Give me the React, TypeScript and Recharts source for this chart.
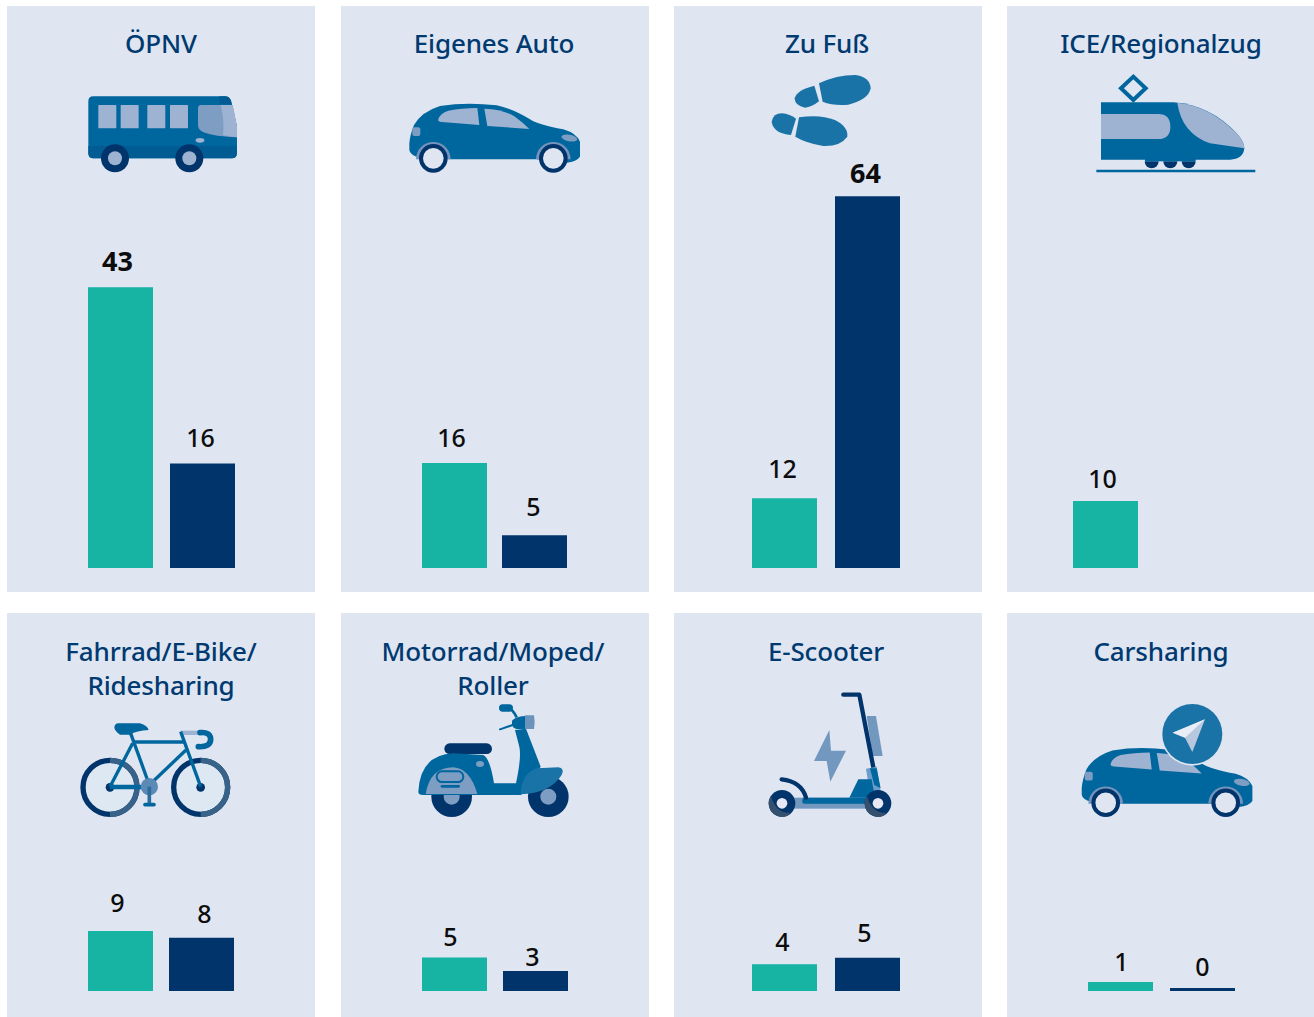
import React from "react";
import { BarChart, Bar, Cell, XAxis, YAxis, LabelList } from "recharts";

const categories = [
  ["ÖPNV"],
  ["Eigenes Auto"],
  ["Zu Fuß"],
  ["ICE/Regionalzug"],
  ["Fahrrad/E-Bike/", "Ridesharing"],
  ["Motorrad/Moped/", "Roller"],
  ["E-Scooter"],
  ["Carsharing"],
];
const greenValues = [43, 16, 12, 10, 9, 5, 4, 1];
const navyValues = [16, 5, 64, null, 8, 3, 5, 0];
const boldValues = [43, 64];
const panelMax = [64.3, 64, 72.3, 62.7, 21, 20.9, 21, 15.55];

// layout only, page pixels
const BLUE = "#00669e";
const NAVY = "#00346b";
const GREEN = "#17b3a3";
const TEAL = "#1a73a7";
const PALE = "#9db3d1";
const MID = "#7d9dc2";
const PANEL = "#dfe5f1";
const panelX = [7, 341, 674, 1007];
const titleNudge = [0, -1, -1, 0, 0, -2, -2, 0];
const barCentres = [
  [120, 202],
  [454, 534],
  [784.5, 867.5],
  [1105, 1187],
  [120.5, 201.5],
  [454.5, 535.5],
  [784.5, 867.5],
  [1120, 1202],
];
const labelNudge = [
  [[-3, -16], [-2, -16]],
  [[-3, -16], [-1, -19]],
  [[-2, -20], [-2, -13]],
  [[-3, -13], [0, 0]],
  [[-3, -19], [3, -15]],
  [[-4, -12], [-3, -5]],
  [[-2, -13], [-3, -16]],
  [[1, -11], [0, -12]],
];

function BarPanel({ index }: { index: number }) {
  const row = index < 4 ? 0 : 1;
  const plotH = row === 0 ? 420 : 140;
  const base = row === 0 ? 568 : 991;
  const [c1, c2] = barCentres[index];
  const gap = c2 - c1;
  const data = [
    { name: "a", value: greenValues[index] },
    { name: "b", value: navyValues[index] },
  ];
  const renderLabel = (p: any) => {
    if (p.value === null || p.value === undefined) return null;
    const [dx, dy] = labelNudge[index][p.index];
    const bold = boldValues.includes(p.value);
    return (
      <text
        x={p.x + p.width / 2 + dx}
        y={p.y + dy}
        textAnchor="middle"
        fontFamily="'Noto Sans'"
        fontSize={bold ? 27 : 25}
        fontWeight={bold ? 700 : 500}
        fill="#0c0c0c"
      >
        {p.value}
      </text>
    );
  };
  return (
    <div style={{ position: "absolute", left: c1 - gap / 2, top: base - plotH }}>
      <BarChart width={gap * 2} height={plotH} data={data} margin={{ top: 0, right: 0, bottom: 0, left: 0 }}>
        <XAxis dataKey="name" hide />
        <YAxis hide domain={[0, panelMax[index]]} />
        <Bar dataKey="value" barSize={65} minPointSize={3} isAnimationActive={false}>
          {data.map((d, i) => (
            <Cell key={d.name} fill={i === 0 ? GREEN : NAVY} />
          ))}
          <LabelList dataKey="value" content={renderLabel} />
        </Bar>
      </BarChart>
    </div>
  );
}

function Title({ index }: { index: number }) {
  const col = index % 4;
  const top = index < 4 ? 26 : 634;
  return (
    <div
      style={{
        position: "absolute",
        left: panelX[col] + titleNudge[index],
        top,
        width: 308,
        textAlign: "center",
        fontFamily: "'Noto Sans'",
        fontSize: 26,
        fontWeight: 500,
        letterSpacing: "-0.15px",
        lineHeight: "34px",
        color: "#003a70",
      }}
    >
      {categories[index].map((line) => (
        <div key={line}>{line}</div>
      ))}
    </div>
  );
}

function Car() {
  return (
    <g>
      <path
        d="M58 370 Q60 345 72 315 Q95 275 150 258 Q230 245 320 256 Q365 265 420 298 Q445 315 520 328 Q560 340 570 365 V410 Q560 425 530 428 L440 418 H180 L85 412 Q60 405 58 390 Z"
        fill={BLUE}
      />
      <path d="M78 418 A52 52 0 0 1 182 418 Z" fill="#7394bc" />
      <path d="M438 418 A52 52 0 0 1 542 418 Z" fill="#7394bc" />
      <circle cx={130} cy={415} r={37} fill={PANEL} stroke={NAVY} strokeWidth={12} />
      <circle cx={490} cy={415} r={37} fill={PANEL} stroke={NAVY} strokeWidth={12} />
      <path d="M145 298 Q150 280 175 272 Q215 264 262 264 L268 315 L155 306 Q142 305 145 298Z" fill={PALE} />
      <path d="M283 266 Q340 268 375 290 Q400 308 418 327 L292 318 Z" fill={PALE} />
      <rect x={67} y={322} width={24} height={26} rx={6} fill={MID} />
      <ellipse cx={538} cy={354} rx={24} ry={10} transform="rotate(10 538 354)" fill={MID} />
    </g>
  );
}

function Icons() {
  return (
    <svg width={1314} height={1017} style={{ position: "absolute", left: 0, top: 0 }}>
      {/* bus */}
      <g transform="translate(60 20) scale(0.3333)">
        <path d="M100 229 H495 Q512 229 515 250 L531 320 V400 Q531 415 515 415 H100 Q85 415 85 400 V244 Q85 229 100 229 Z" fill={BLUE} />
        <path d="M85 378 H531 V400 Q531 415 515 415 H100 Q85 415 85 400 Z" fill="#005c93" />
        <path d="M478 229 H497 Q512 229 515 252 H480 Z" fill="#005c93" />
        {[115, 182, 262, 330].map((x) => (
          <rect key={x} x={x} y={255} width={54} height={70} rx={2} fill={PALE} />
        ))}
        <path d="M414 265 Q414 255 424 255 H518 L531 320 V352 Q440 348 420 330 Q414 325 414 315 Z" fill={MID} />
        <path d="M482 255 H518 L531 320 V352 L489 346 Q494 300 482 255 Z" fill={PALE} />
        <ellipse cx={420} cy={361} rx={13} ry={7} fill={PALE} />
        {[165, 388].map((x) => (
          <g key={x}>
            <circle cx={x} cy={415} r={42} fill={NAVY} />
            <circle cx={x} cy={415} r={21} fill={PALE} />
          </g>
        ))}
      </g>
      {/* car */}
      <g transform="translate(390 20) scale(0.3333)">
        <Car />
      </g>
      {/* footprints */}
      <g transform="translate(750 20) scale(0.3333)" fill={TEAL}>
        <path d="M207 190 Q260 165 315 165 Q360 170 362 205 Q355 240 295 254 Q250 258 218 245 Z" />
        <path d="M193 197 L207 244 Q185 262 165 263 Q135 258 134 235 Q140 210 193 197Z" />
        <path d="M65 305 Q70 280 95 280 Q120 282 138 296 L123 345 Q70 340 65 305Z" />
        <path d="M147 292 Q210 282 255 300 Q295 320 292 350 Q270 380 220 378 Q170 370 136 350 Z" />
      </g>
      {/* train */}
      <g transform="translate(1060 20) scale(0.3333)">
        <path d="M220 170 L257 205 L220 240 L183 205 Z" fill="none" stroke={BLUE} strokeWidth={12} />
        {[275, 331, 386].map((x) => (
          <path key={x} d={`M${x - 21} 424 A21 21 0 0 0 ${x + 21} 424 Z`} fill={NAVY} />
        ))}
        <rect x={255} y={416} width={152} height={8} fill={BLUE} />
        <path d="M123 247 H340 Q450 255 530 340 Q553 365 553 385 Q550 418 510 419 H123 Z" fill={BLUE} />
        <path d="M123 282 H295 Q331 282 331 320 Q331 357 295 357 H123Z" fill={PALE} />
        <path d="M352 248 Q450 258 530 340 Q553 365 553 385 L450 370 Q365 340 352 248 Z" fill={PALE} />
        <line x1={109} y1={453} x2={586} y2={453} stroke={BLUE} strokeWidth={7} />
      </g>
      {/* bicycle */}
      <g transform="translate(60 630) scale(0.3333)">
        {[150, 422].map((x) => (
          <g key={x}>
            <circle cx={x} cy={472} r={81} fill="#dde8f3" stroke={NAVY} strokeWidth={16} />
            <path d={`M${x} 391 A81 81 0 0 1 ${x} 553`} fill="none" stroke="#386287" strokeWidth={16} />
            <circle cx={x} cy={472} r={13} fill={NAVY} />
          </g>
        ))}
        <rect x={362} y={302} width={60} height={13} fill={PALE} />
        <g fill="none" stroke={BLUE} strokeWidth={10}>
          <path d="M212 310 L268 465" />
          <path d="M220 336 H375" />
          <path d="M268 465 L378 360" />
          <path d="M150 470 L218 340" />
          <path d="M362 305 L422 470" />
          <path d="M150 471 H268" strokeWidth={13} />
          <path d="M420 308 Q452 305 452 328 Q452 352 415 350" strokeWidth={17} strokeLinecap="round" />
        </g>
        <path d="M175 280 H240 Q262 286 266 300 Q230 302 210 314 H180 Q163 302 163 292 Q165 280 175 280 Z" fill={BLUE} />
        <circle cx={268} cy={470} r={26} fill="#5a8ab5" />
        <line x1={268} y1={470} x2={268} y2={522} stroke="#2d6d9e" strokeWidth={11} />
        <line x1={255} y1={524} x2={282} y2={524} stroke={BLUE} strokeWidth={11} strokeLinecap="round" />
      </g>
      {/* scooter */}
      <g transform="translate(390 630) scale(0.3333)">
        {[185, 475].map((x) => (
          <g key={x}>
            <circle cx={x} cy={500} r={61} fill={NAVY} />
            <circle cx={x} cy={500} r={24} fill={MID} />
          </g>
        ))}
        <rect x={163} y={340} width={143} height={32} rx={16} fill={NAVY} />
        <path d="M85 485 Q90 375 190 370 L280 375 Q300 385 312 460 H380 L395 495 H100 Q85 495 85 485Z" fill={BLUE} />
        <path d="M107 492 Q120 412 190 412 Q240 415 262 492 Z" fill={MID} />
        <rect x={140} y={424} width={80} height={32} rx={16} fill="none" stroke={BLUE} strokeWidth={6} />
        <rect x={152} y={465} width={58} height={8} rx={4} fill={BLUE} />
        <ellipse cx={270} cy={402} rx={12} ry={9} fill={MID} />
        <path d="M375 300 L408 296 L452 410 L395 490 H380 L378 460 Q395 380 388 350 Z" fill={BLUE} />
        <path d="M392 492 Q395 430 440 415 L505 412 Q525 415 515 435 Q480 490 392 493Z" fill={TEAL} />
        <path d="M366 272 Q375 260 405 258 V297 H380 Q366 295 366 280Z" fill={BLUE} />
        <path d="M405 256 H432 Q436 275 432 297 H405 Z" fill="#6b93bb" />
        <rect x={327} y={223} width={42} height={22} rx={11} fill={BLUE} />
        <path d="M355 232 Q370 240 380 262" fill="none" stroke={BLUE} strokeWidth={8} />
        <line x1={330} y1={298} x2={368} y2={285} stroke={BLUE} strokeWidth={6} strokeLinecap="round" />
      </g>
      {/* e-scooter */}
      <g transform="translate(750 680) scale(0.3333)">
        <path d="M350 108 H378 L398 228 H368 Z" fill="#7298c0" />
        <path d="M238 150 L192 243 H230 L241 305 L288 212 H243 Z" fill="#7298c0" />
        <path d="M280 44 H328 L370 262" fill="none" stroke={NAVY} strokeWidth={13} strokeLinecap="round" strokeLinejoin="round" />
        <path d="M348 266 L380 260 L392 335 L360 340 Z" fill="#6b9ccb" />
        <path d="M360 265 H380 L392 325 L373 315 Z" fill={BLUE} />
        <rect x={130} y={353} width={240} height={33} fill="#7298c0" />
        <path d="M298 353 L325 298 H365 L375 353 Z" fill={BLUE} />
        <rect x={157} y={353} width={210} height={18} rx={6} fill={BLUE} />
        <path d="M95 298 Q155 305 168 353" fill="none" stroke={NAVY} strokeWidth={13} strokeLinecap="round" />
        {[96, 384].map((x) => (
          <g key={x}>
            <circle cx={x} cy={370} r={40} fill={NAVY} />
            <path d={`M${x - 40} 370 A40 40 0 0 0 ${x + 28} 399 Q${x - 20} 400 ${x - 33} 347 Q${x - 40} 358 ${x - 40} 370 Z`} fill="#35506f" />
            <circle cx={x} cy={370} r={16} fill="#e8e8f4" />
          </g>
        ))}
      </g>
      {/* carsharing */}
      <g transform="translate(1062.4 664.4) scale(0.3333)">
        <Car />
      </g>
      <g transform="translate(1070 690) scale(0.3333)">
        <circle cx={367} cy={132} r={95} fill={PANEL} />
        <circle cx={367} cy={132} r={90} fill={TEAL} />
        <path d="M405 88 L308 128 L345 143 L367 186 Z" fill="#b7c7de" />
        <path d="M405 88 L308 128 L345 143 Z" fill="#e9eef6" />
      </g>
    </svg>
  );
}

export default function App() {
  return (
    <div style={{ position: "absolute", left: 0, top: 0, width: 1314, height: 1017, overflow: "hidden", background: "#fff" }}>
      {categories.map((_, i) => (
        <div
          key={i}
          style={{
            position: "absolute",
            left: panelX[i % 4],
            top: i < 4 ? 6 : 613,
            width: 308,
            height: i < 4 ? 586 : 404,
            background: PANEL,
          }}
        />
      ))}
      {categories.map((_, i) => (
        <BarPanel key={i} index={i} />
      ))}
      {categories.map((_, i) => (
        <Title key={i} index={i} />
      ))}
      <Icons />
    </div>
  );
}
